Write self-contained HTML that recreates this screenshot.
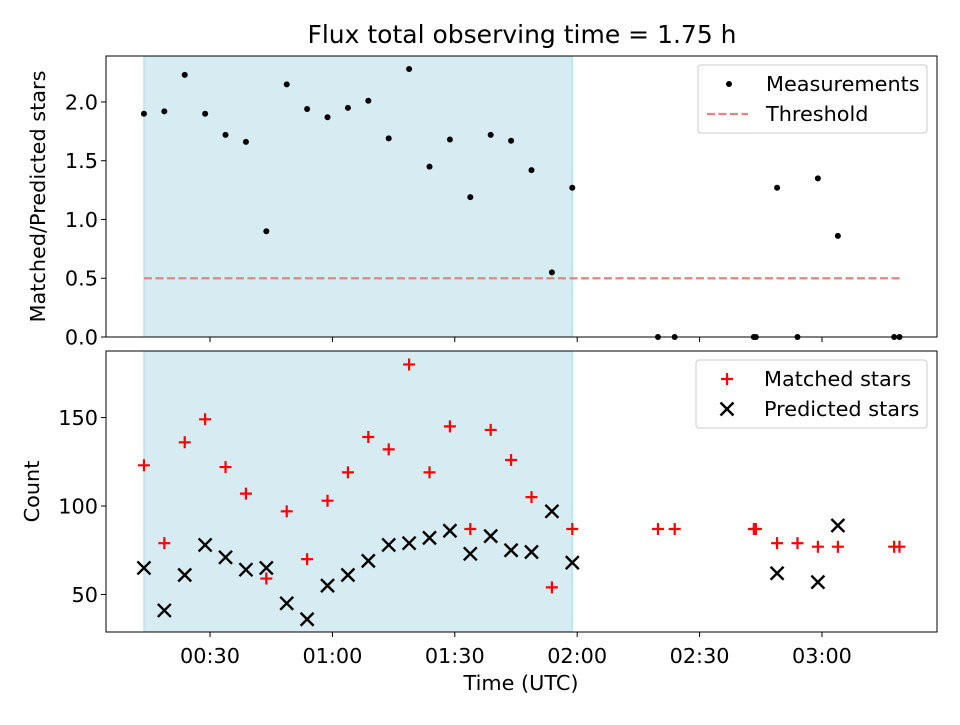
<!DOCTYPE html>
<html><head><meta charset="utf-8"><style>
body{margin:0;background:#fff;}
svg text{font-family:"DejaVu Sans","Liberation Sans",sans-serif;fill:#000;}
</style></head><body>
<svg id="chart" width="960" height="720" xmlns="http://www.w3.org/2000/svg"></svg>
<script>
const timesMin=[13.8,18.8,23.8,28.8,33.8,38.8,43.8,48.8,53.8,58.8,63.8,68.8,73.8,78.8,83.8,88.8,93.8,98.8,103.8,108.8,113.8,118.8,139.8,143.9,163.3,163.8,169,174,179,183.9,197.7,199];
const matched=[123,79,136,149,122,107,59,97,70,103,119,139,132,180,119,145,87,143,126,105,54,87,87,87,87,87,79,79,77,77,77,77];
const predicted=[65,41,61,78,71,64,65,45,36,55,61,69,78,79,82,86,73,83,75,74,97,68,null,null,null,null,62,null,57,89,null,null];
const ratio=[1.90,1.92,2.23,1.90,1.72,1.66,0.90,2.15,1.94,1.87,1.95,2.01,1.69,2.28,1.45,1.68,1.19,1.72,1.67,1.42,0.55,1.27,0,0,0,0,1.27,0,1.35,0.86,0,0];
const ratioTicks=[0,0.5,1.0,1.5,2.0];
const countTicks=[50,100,150];
const timeTicks=[30,60,90,120,150,180];
const timeLabels=["00:30","01:00","01:30","02:00","02:30","03:00"];
const shadeRange=[13.8,118.8];
const threshold=0.5;

const NS="http://www.w3.org/2000/svg";
const svg=document.getElementById('chart');
function el(t,a,p){const e=document.createElementNS(NS,t);for(const k in a)e.setAttribute(k,a[k]);(p||svg).appendChild(e);return e;}
const L=106,R=937;
const xMin=4.5,xMax=208.2;
const X=m=>L+(m-xMin)/(xMax-xMin)*(R-L);
const T1=56,B1=337,T2=351,B2=632;
const Y1=v=>B1-(v-0)/(2.391)*(B1-T1);
const Y2=v=>B2-(v-28.8)/(187.6-28.8)*(B2-T2);
const FS=20.8;
const P=6,XS=6.5;
const plusD=(x,y)=>`M${x-P} ${y}H${x+P}M${x} ${y-P}V${y+P}`;
const crossD=(x,y)=>`M${x-XS} ${y-XS}L${x+XS} ${y+XS}M${x-XS} ${y+XS}L${x+XS} ${y-XS}`;

let t=el('text',{x:522,y:43,'font-size':'25','text-anchor':'middle'});

t.textContent='Flux total observing time = 1.75 h';

function panel(T,B,Y,ticks,fmt,name,ylabel,ylx){
  const g=el('g',{});
  
  const s=el('rect',{x:X(shadeRange[0]),y:T,width:X(shadeRange[1])-X(shadeRange[0]),height:B-T,fill:'#add8e6','fill-opacity':'0.5',stroke:'#add8e6'},g);
  
  ticks.forEach(v=>{const y=Y(v);
    el('line',{x1:L-5,x2:L,y1:y,y2:y,stroke:'#000'},g);
    const tx=el('text',{x:L-8,y:y+7.5,'font-size':FS,'text-anchor':'end'},g);
    
    tx.textContent=fmt(v);});
  timeTicks.forEach(m=>el('line',{x1:X(m),x2:X(m),y1:B,y2:B+5,stroke:'#000'},g));
  const yl=el('text',{x:ylx,y:(T+B)/2,'font-size':FS,'text-anchor':'middle',transform:`rotate(-90 ${ylx} ${(T+B)/2})`},g);
  
  yl.textContent=ylabel;
  return g;
}
const g1=panel(T1,B1,Y1,ratioTicks,v=>v.toFixed(1),'ratio-panel','Matched/Predicted stars',45);
const g2=panel(T2,B2,Y2,countTicks,v=>String(v),'count-panel','Count',39);

const th=el('line',{x1:X(13.8),x2:X(199),y1:Y1(threshold),y2:Y1(threshold),stroke:'#f08080','stroke-width':'2.2','stroke-dasharray':'8,3.5'},g1);

ratio.forEach((v,i)=>{const c=el('circle',{cx:X(timesMin[i]),cy:Y1(v),r:3,fill:'#000'},g1);
  });

matched.forEach((v,i)=>{
  const p=el('path',{d:plusD(X(timesMin[i]),Y2(v)),stroke:'#f00','stroke-width':'2.2'},g2);
  });
predicted.forEach((v,i)=>{if(v==null)return;
  const p=el('path',{d:crossD(X(timesMin[i]),Y2(v)),stroke:'#000','stroke-width':'2.4'},g2);
  });

[[T1,B1],[T2,B2]].forEach(([T,B])=>el('rect',{x:L,y:T,width:R-L,height:B-T,fill:'none',stroke:'#000','stroke-width':'1'}));

timeTicks.forEach((m,i)=>{const tx=el('text',{x:X(m),y:663,'font-size':FS,'text-anchor':'middle'});
  
  tx.textContent=timeLabels[i];});
const xt=el('text',{x:521,y:690,'font-size':FS,'text-anchor':'middle'});

xt.textContent='Time (UTC)';

function legend(x,y,w,name,items){
  const g=el('g',{});
  el('rect',{x,y,width:w,height:68,rx:3,fill:'#fff','fill-opacity':'0.8',stroke:'#ccc'},g);
  items.forEach((it,i)=>{const cy=y+19+i*30;it.draw(g,x+31,cy);
    const tx=el('text',{x:x+68,y:cy+7,'font-size':FS},g);
    
    tx.textContent=it.label;});
}
legend(698,65,229,'ratio-legend',[
 {label:'Measurements',draw:(g,x,y)=>el('circle',{cx:x,cy:y,r:3,fill:'#000'},g)},
 {label:'Threshold',draw:(g,x,y)=>el('line',{x1:x-22,x2:x+19,y1:y,y2:y,stroke:'#f08080','stroke-width':'2.2','stroke-dasharray':'8,3.5'},g)}]);
legend(696,360,231,'count-legend',[
 {label:'Matched stars',draw:(g,x,y)=>el('path',{d:plusD(x,y),stroke:'#f00','stroke-width':'2.2'},g)},
 {label:'Predicted stars',draw:(g,x,y)=>el('path',{d:crossD(x,y),stroke:'#000','stroke-width':'2.4'},g)}]);
</script>
</body></html>
